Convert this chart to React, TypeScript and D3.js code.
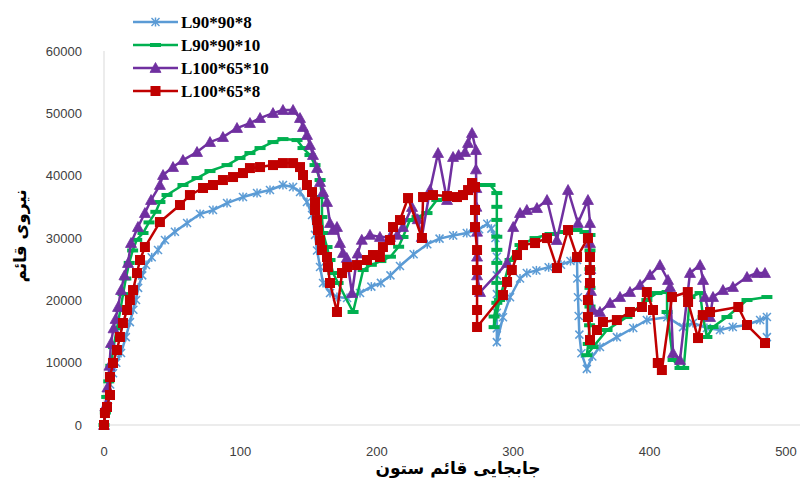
import React from "react";
import * as d3 from "d3";

type P = [number, number];

const seriesNames = ["L90*90*8", "L90*90*10", "L100*65*10", "L100*65*8"];
const xTicks = [0, 100, 200, 300, 400, 500];
const yTicks = [0, 10000, 20000, 30000, 40000, 50000, 60000];
const xTitle = "جابجایی قائم ستون";
const yTitle = "نیروی قائم";

const l90x90x8: P[] = [
  [0, 0], [1.5, 2500], [2.9, 4000], [4.5, 6500], [6.6, 8300], [9, 10000], [12.5, 11550], [16, 14100],
  [19, 16500], [21.5, 18500], [23.5, 20050], [25, 22000], [28, 24000], [30.8, 25660], [35, 26900],
  [39.6, 28070], [44.7, 29670], [52, 31000], [60.9, 32400], [70.4, 33840], [79.9, 34480], [90.2, 35600],
  [101.9, 36570], [112.2, 37210], [121.7, 37700], [131.2, 38500], [138.6, 38170], [143.7, 37370],
  [148.8, 35770], [152.5, 33680], [154.7, 30500], [156.2, 28000], [158.4, 25340], [160.6, 22780],
  [165.7, 21170], [170.8, 20530], [178.2, 20370], [187.7, 21170], [196, 22200], [203, 22800], [210, 24000],
  [217, 25500], [227, 27400], [237, 29000], [246, 29900], [256, 30400], [266, 30800], [275, 31400],
  [281, 32300], [284, 31500], [287, 30000], [288, 27000], [288, 24000], [288, 21000], [288, 18000],
  [288, 15500], [288, 13300], [292.5, 17300], [297.7, 20500], [305, 23500], [310, 24400], [317, 24800],
  [326, 25300], [335, 25700], [342, 26300], [346.8, 26470], [347, 23500], [347.5, 20500], [348, 17500],
  [348.5, 14500], [350, 11500], [354, 9000], [358, 11000], [363.6, 12500], [376, 14100], [388, 15560],
  [398, 16840], [413, 17300], [424.5, 15700], [431.8, 16360], [442, 15560], [451.6, 15240], [461, 15720],
  [471, 16040], [481, 16840], [486, 17320], [486, 14100],
];

const l90x90x10: P[] = [
  [0, 0], [1, 2000], [2, 4500], [3.5, 7000], [5, 9500], [7, 12500], [9.5, 15500], [12, 18500], [14, 21000],
  [16, 23500], [18.5, 26000], [21, 28000], [24, 29700], [28.6, 30800], [33, 32500], [38, 34200],
  [41, 35770], [46.2, 36900], [57.9, 38500], [68.2, 39620], [77.7, 40740], [90.2, 41700], [99.7, 42830],
  [107, 43630], [114.4, 44430], [123.9, 45390], [131.2, 45870], [141.5, 45710], [145.9, 44430],
  [151, 43310], [154.7, 41700], [158.4, 39300], [159.8, 36570], [159.8, 33360], [160.6, 30800],
  [163.5, 28550], [165.7, 26470], [167.9, 24380], [171.6, 22780], [182.6, 18130], [190, 24860],
  [196, 25700], [203, 26300], [210, 27000], [216, 28600], [219.2, 30160], [224.3, 32880], [229.5, 33360],
  [236.8, 34000], [244, 36090], [251.5, 36410], [258.8, 36570], [266, 37370], [275.6, 38500], [283, 38500],
  [288, 37210], [288, 35000], [288, 32900], [288, 30200], [288, 28100], [288, 26000], [288, 22800],
  [288, 19600], [286, 17400], [286, 15700], [290, 20050], [297.7, 26470], [305, 28870], [316, 29990],
  [327, 30640], [338, 30960], [346.8, 31280], [352.6, 30960], [356.3, 30480], [356.3, 28000],
  [356.3, 25000], [356.3, 22000], [356.3, 19000], [356, 16000], [355, 13000], [354, 11200],
  [358.5, 12500], [368.8, 15240], [383.4, 17320], [398, 20050], [405.4, 21170], [412.8, 21330],
  [412.8, 18130], [417.2, 10430], [422.3, 9150], [425, 9150], [429.6, 20530], [437, 21170],
  [439.2, 17320], [442, 14120], [446.5, 15720], [456.7, 17320], [471.4, 20050], [486, 20530],
];

const l100x65x10: P[] = [
  [0, 0], [1, 3000], [2.5, 6000], [4, 9500], [5.1, 13150], [7, 15500], [8.5, 17000], [10.3, 18930],
  [12.5, 21650], [15, 24000], [17.6, 25980], [19.8, 29190], [24.9, 31760], [30, 34000], [34.5, 36090],
  [41, 38500], [43.3, 40100], [50.6, 41380], [57.9, 42500], [68.2, 43790], [77.7, 45390], [87.2, 46190],
  [97.5, 47640], [107, 48440], [114.4, 49240], [123.9, 50040], [131.2, 50530], [138.6, 50530],
  [143.7, 49240], [145.9, 47800], [148.8, 46520], [151, 44910], [153.2, 43310], [156.2, 41220],
  [158.4, 38980], [160.6, 37370], [163.5, 35770], [165.7, 32400], [167.9, 31280], [170.8, 31760],
  [173, 29190], [175.2, 27590], [178, 26800], [181.8, 21170], [186, 27500], [189, 29700], [195, 30500],
  [202.3, 30160], [209.7, 30160], [215, 30500], [219.2, 31760], [225.8, 34970], [230, 33000],
  [233, 30160], [239, 37700], [244.9, 43630], [251.5, 36090], [255.9, 42990], [260, 43300],
  [264.7, 43790], [266.9, 45230], [269.8, 46840], [272.7, 44100], [272.7, 41000], [273, 38000],
  [273, 35000], [273.5, 31000], [273.5, 27000], [273.5, 24000], [275.7, 21330], [295.5, 25980],
  [300, 31760], [305, 34000], [310, 34490], [317.4, 34800], [324.8, 36090], [332, 29670], [340.2, 37700],
  [347.5, 32400], [354.8, 36090], [356.3, 32400], [356.3, 29190], [356.5, 25000], [357, 21500],
  [358.5, 18450], [363.6, 18130], [371, 19570], [378.3, 20530], [385.6, 21330], [393, 22460],
  [400.3, 24060], [407.6, 25660], [413.5, 23260], [415, 22140], [417.2, 11550], [422.3, 10430],
  [429.6, 24380], [437, 25660], [439.2, 23260], [440.6, 20530], [444.3, 17320], [446.5, 20530],
  [453.8, 21650], [461.1, 22140], [471.4, 23740], [478.7, 24380], [484.6, 24380],
];

const l100x65x8: P[] = [
  [0, 0], [0.7, 1920], [2.2, 2890], [4.4, 4810], [4.4, 7700], [6.6, 9950], [9.5, 12030], [11.7, 14120],
  [13.9, 16360], [16.9, 18450], [19, 20050], [21.3, 21650], [24.2, 24380], [26.4, 26470], [30, 28550],
  [41, 32560], [55.7, 35290], [63, 36890], [72.6, 38020], [79.9, 38500], [87.2, 39300], [94.6, 39780],
  [101.9, 40420], [107, 41220], [114.4, 41380], [123.9, 41700], [131.2, 42020], [138.6, 42020],
  [143.7, 41380], [145.9, 40100], [148.8, 38500], [152.5, 37370], [154.7, 35770], [154.7, 34490],
  [156.2, 32880], [156.9, 31280], [158.4, 29670], [159.8, 28070], [163.5, 26950], [164.2, 25340],
  [165.7, 22780], [170.8, 18130], [174.5, 24380], [178.2, 25340], [185.5, 25660], [192.8, 26470],
  [197.2, 27270], [202.3, 26950], [204.5, 28550], [209.7, 29670], [211.9, 31760], [217, 32880],
  [222.9, 36410], [233.1, 30000], [233.9, 36570], [241.2, 36890], [251.5, 36730], [258.8, 36570],
  [263.2, 36890], [266.9, 37690], [269.8, 38820], [272, 38180], [272, 34490], [272, 31760],
  [273.5, 28070], [273.5, 24860], [273.5, 21650], [273.5, 18450], [273.5, 15720], [292.5, 20850],
  [295.5, 22940], [299, 24860], [302.8, 27270], [307.2, 28870], [316, 29190], [324.8, 29990],
  [332.1, 25180], [340.2, 31280], [346.8, 26950], [354.8, 29990], [356.3, 26950], [356.3, 24860],
  [356.3, 22780], [354.8, 20050], [354.8, 17320], [356.3, 13630], [361.4, 15240], [365.8, 16520],
  [376, 16840], [385.6, 18130], [394.4, 18930], [398, 21330], [402.5, 18450], [406, 9950], [409, 8820],
  [416.4, 20530], [428, 21330], [428.2, 19730], [435.5, 13950], [439, 17640], [444.3, 18130],
  [465, 18930], [471.4, 16040], [484.6, 13150],
];

const seriesData = [l90x90x8, l90x90x10, l100x65x10, l100x65x8];
const colors = ["#5B9BD5", "#00B050", "#7030A0", "#C00000"];
const markerKinds = ["star", "dash", "triangle", "square"];

const W = 801;
const H = 483;

function Marker({ kind, cx, cy, color }: { kind: string; cx: number; cy: number; color: string }) {
  if (kind === "star") {
    const r = 4;
    return (
      <g stroke={color} strokeWidth={1.5} fill="none">
        <line x1={cx - r} y1={cy - r} x2={cx + r} y2={cy + r} />
        <line x1={cx - r} y1={cy + r} x2={cx + r} y2={cy - r} />
        <line x1={cx} y1={cy - r - 0.5} x2={cx} y2={cy + r + 0.5} />
      </g>
    );
  }
  if (kind === "dash") {
    return <rect x={cx - 5.5} y={cy - 2} width={11} height={4} fill={color} />;
  }
  if (kind === "triangle") {
    const s = 5.5;
    return (
      <path
        d={`M${cx},${cy - s}L${cx + s},${cy + s * 0.8}L${cx - s},${cy + s * 0.8}Z`}
        fill={color}
        stroke={color}
        strokeWidth={0.8}
        strokeLinejoin="round"
      />
    );
  }
  return <rect x={cx - 5} y={cy - 5} width={10} height={10} fill={color} />;
}

export default function App() {
  const x = d3.scaleLinear().domain([0, 500]).range([104, 786]);
  const y = d3.scaleLinear().domain([0, 60000]).range([425, 51]);
  const line = d3
    .line<P>()
    .x((d) => x(d[0]))
    .y((d) => y(d[1]));

  const tickFont = "'Liberation Sans', Arial, sans-serif";

  return (
    <svg
      width={W}
      height={H}
      viewBox={`0 0 ${W} ${H}`}
      style={{ position: "absolute", left: 0, top: 0, background: "#fff" }}
    >
      <rect x={0} y={0} width={W} height={H} fill="#fff" />
      <line x1={x(0)} y1={y(60000)} x2={x(0)} y2={y(0)} stroke="#D9D9D9" strokeWidth={1} />
      <line x1={x(0)} y1={y(0)} x2={800} y2={y(0)} stroke="#D9D9D9" strokeWidth={1} />

      {yTicks.map((t) => (
        <text
          key={"y" + t}
          x={82}
          y={y(t) + 4.5}
          textAnchor="end"
          fontFamily={tickFont}
          fontSize={13}
          fill="#404040"
        >
          {t}
        </text>
      ))}
      {xTicks.map((t) => (
        <text
          key={"x" + t}
          x={x(t)}
          y={456}
          textAnchor="middle"
          fontFamily={tickFont}
          fontSize={13}
          fill="#404040"
        >
          {t}
        </text>
      ))}

      {seriesData.map((s, i) => (
        <g key={"s" + i}>
          <path
            d={line(s) || ""}
            fill="none"
            stroke={colors[i]}
            strokeWidth={2.5}
            strokeLinejoin="round"
          />
          {s.map((d, j) => (
            <Marker key={j} kind={markerKinds[i]} cx={x(d[0])} cy={y(d[1])} color={colors[i]} />
          ))}
        </g>
      ))}

      {seriesNames.map((name, i) => {
        const ly = 22 + i * 23;
        return (
          <g key={"l" + i}>
            <line x1={133} y1={ly} x2={178} y2={ly} stroke={colors[i]} strokeWidth={2.5} />
            <Marker kind={markerKinds[i]} cx={155.5} cy={ly} color={colors[i]} />
            <text
              x={181}
              y={ly + 6}
              fontFamily="'Liberation Serif', 'Times New Roman', serif"
              fontWeight="bold"
              fontSize={17}
              fill="#000"
            >
              {name}
            </text>
          </g>
        );
      })}

      <text
        x={458}
        y={474}
        textAnchor="middle"
        fontFamily="'DejaVu Sans', sans-serif"
        fontWeight="bold"
        fontSize={17}
        fill="#000"
        direction="rtl"
      >
        {xTitle}
      </text>
      <text
        transform={`translate(26, 236) rotate(-90)`}
        textAnchor="middle"
        fontFamily="'DejaVu Sans', sans-serif"
        fontWeight="bold"
        fontSize={17}
        fill="#000"
        direction="rtl"
      >
        {yTitle}
      </text>
    </svg>
  );
}
